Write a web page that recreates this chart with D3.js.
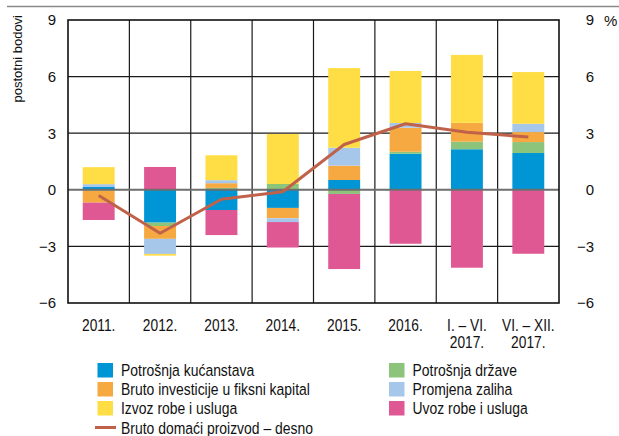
<!DOCTYPE html>
<html><head><meta charset="utf-8">
<script src="https://cdn.jsdelivr.net/npm/d3@7/dist/d3.min.js"></script>
<style>
body{margin:0;background:#fff;}
svg{display:block;font-family:"Liberation Sans",Arial,sans-serif;}
</style></head>
<body><svg id="c" width="619" height="436"></svg>
<script>
const categories = ["2011.", "2012.", "2013.", "2014.", "2015.", "2016.", "I. – VI.\n2017.", "VI. – XII.\n2017."];
const household   = [0.15, -1.74, -1.07, -0.96, 0.52, 1.91, 2.15, 1.95];
const government  = [-0.05, -0.18, 0.10, 0.31, -0.22, 0.11, 0.40, 0.58];
const investment  = [-0.63, -0.68, 0.25, -0.55, 0.76, 1.27, 1.00, 0.53];
const inventories = [0.15, -0.80, 0.16, -0.20, 0.95, 0.25, 0.00, 0.44];
const exportsS    = [0.90, -0.09, 1.32, 2.65, 4.22, 2.76, 3.60, 2.74];
const importsS    = [-0.92, 1.21, -1.33, -1.35, -3.98, -2.86, -4.13, -3.39];
const gdp         = [-0.30, -2.30, -0.50, -0.10, 2.40, 3.50, 3.05, 2.80];
const yTicks = [-6, -3, 0, 3, 6, 9];

const seriesDefs = [
  {key:"household", name:"Potrošnja kućanstava", color:"#0096d6", values:household},
  {key:"government", name:"Potrošnja države", color:"#8cc47c", values:government},
  {key:"investment", name:"Bruto investicije u fiksni kapital", color:"#f6a941", values:investment},
  {key:"inventories", name:"Promjena zaliha", color:"#a7c7ea", values:inventories},
  {key:"exports", name:"Izvoz robe i usluga", color:"#ffdd44", values:exportsS},
  {key:"imports", name:"Uvoz robe i usluga", color:"#df5894", values:importsS}
];
const gdpName = "Bruto domaći proizvod – desno";
const gdpColor = "#c0614a";

const table = categories.map((c,i)=>{
  const o={cat:c};
  seriesDefs.forEach(s=>o[s.key]=s.values[i]);
  return o;
});

const svg = d3.select("#c");
const L=68, R=559, T=20, B=303;
const x = d3.scaleBand().domain(categories).range([L,R]).padding(0);
const y = d3.scaleLinear().domain([-6,9]).range([B,T]);
const barW = x.bandwidth()*0.52;

// top separator
svg.append("line").attr("x1",7).attr("x2",619).attr("y1",6.5).attr("y2",6.5)
  .attr("stroke","#8a8a8a").attr("stroke-width",1.5);

// grid
const grid = svg.append("g");
grid.selectAll("line.h").data(yTicks.filter(v=>v!==0&&v!==-6&&v!==9)).join("line")
  .attr("x1",L).attr("x2",R).attr("y1",d=>y(d)).attr("y2",d=>y(d))
  .attr("stroke","#1a1a1a").attr("stroke-width",1.3);
grid.selectAll("line.v").data(categories.slice(1)).join("line")
  .attr("x1",d=>x(d)).attr("x2",d=>x(d)).attr("y1",T).attr("y2",B)
  .attr("stroke","#1a1a1a").attr("stroke-width",1.2);

// bars
const stack = d3.stack().keys(seriesDefs.map(s=>s.key)).offset(d3.stackOffsetDiverging);
const stacked = stack(table);
svg.append("g").selectAll("g").data(stacked).join("g")
  .attr("fill",(d,i)=>seriesDefs[i].color)
  .selectAll("rect").data(d=>d).join("rect")
  .attr("x",d=>x(d.data.cat)+(x.bandwidth()-barW)/2)
  .attr("width",barW)
  .attr("y",d=>y(Math.max(d[0],d[1])))
  .attr("height",d=>Math.abs(y(d[0])-y(d[1])));

// zero line
svg.append("line").attr("x1",L).attr("x2",R).attr("y1",y(0)).attr("y2",y(0))
  .attr("stroke","#6e6e6e").attr("stroke-width",2);

// GDP line
const line = d3.line().x((d,i)=>x(categories[i])+x.bandwidth()/2).y(d=>y(d));
svg.append("path").datum(gdp).attr("d",line).attr("fill","none")
  .attr("stroke",gdpColor).attr("stroke-width",3).attr("stroke-linejoin","round");

// frame
svg.append("rect").attr("x",L).attr("y",T).attr("width",R-L).attr("height",B-T)
  .attr("fill","none").attr("stroke","#111").attr("stroke-width",1.6);

// axes
const ax = svg.append("g").attr("transform",`translate(${L},0)`)
  .call(d3.axisLeft(y).tickValues(yTicks).tickSize(0).tickPadding(12));
ax.select(".domain").remove();
ax.selectAll("text").attr("font-size",15).attr("font-family","Liberation Sans, Arial, sans-serif").attr("fill","#111");

const axr = svg.append("g").attr("transform",`translate(${R},0)`)
  .call(d3.axisRight(y).tickValues(yTicks).tickSize(0));
axr.select(".domain").remove();
axr.selectAll("text").attr("font-size",15).attr("font-family","Liberation Sans, Arial, sans-serif")
  .attr("fill","#111").attr("text-anchor","end").attr("x",35);

const axb = svg.append("g").attr("transform",`translate(0,${B})`)
  .call(d3.axisBottom(x).tickSize(0));
axb.select(".domain").remove();
axb.selectAll(".tick").each(function(d){
  const g=d3.select(this);
  g.select("text").remove();
  d.split("\n").forEach((s,i)=>{
    g.append("text").attr("transform",`translate(0,${28 + i*17.3}) scale(0.86,1)`)
     .attr("text-anchor","middle").attr("font-size",16).attr("font-family","Liberation Sans, Arial, sans-serif")
     .attr("fill","#111").text(s);
  });
});

// % label
svg.append("text").attr("x",604).attr("y",26).attr("font-size",15).attr("fill","#111").text("%");

// y-axis title
svg.append("text").attr("transform","translate(22,15) rotate(-90)")
  .attr("text-anchor","end").attr("font-size",13).attr("fill","#111").text("postotni bodovi");

// legend
const leg = svg.append("g");
const rowsY=[370,389,408,427.5];
const leftCol=[seriesDefs[0],seriesDefs[2],seriesDefs[4]];
const rightCol=[seriesDefs[1],seriesDefs[3],seriesDefs[5]];
function legItem(s,xs,yc){
  leg.append("rect").attr("x",xs).attr("y",yc-7).attr("width",15.5).attr("height",14.5).attr("fill",s.color);
  leg.append("text").attr("transform",`translate(${xs+23.5},${yc+6}) scale(0.82,1)`)
    .attr("font-size",17).attr("fill","#111").text(s.name);
}
leftCol.forEach((s,i)=>legItem(s,97.5,rowsY[i]));
rightCol.forEach((s,i)=>legItem(s,389,rowsY[i]));
leg.append("line").attr("x1",95).attr("x2",116).attr("y1",rowsY[3]).attr("y2",rowsY[3])
  .attr("stroke",gdpColor).attr("stroke-width",3);
leg.append("text").attr("transform",`translate(121,${rowsY[3]+6}) scale(0.82,1)`)
  .attr("font-size",17).attr("fill","#111").text(gdpName);
</script></body></html>
